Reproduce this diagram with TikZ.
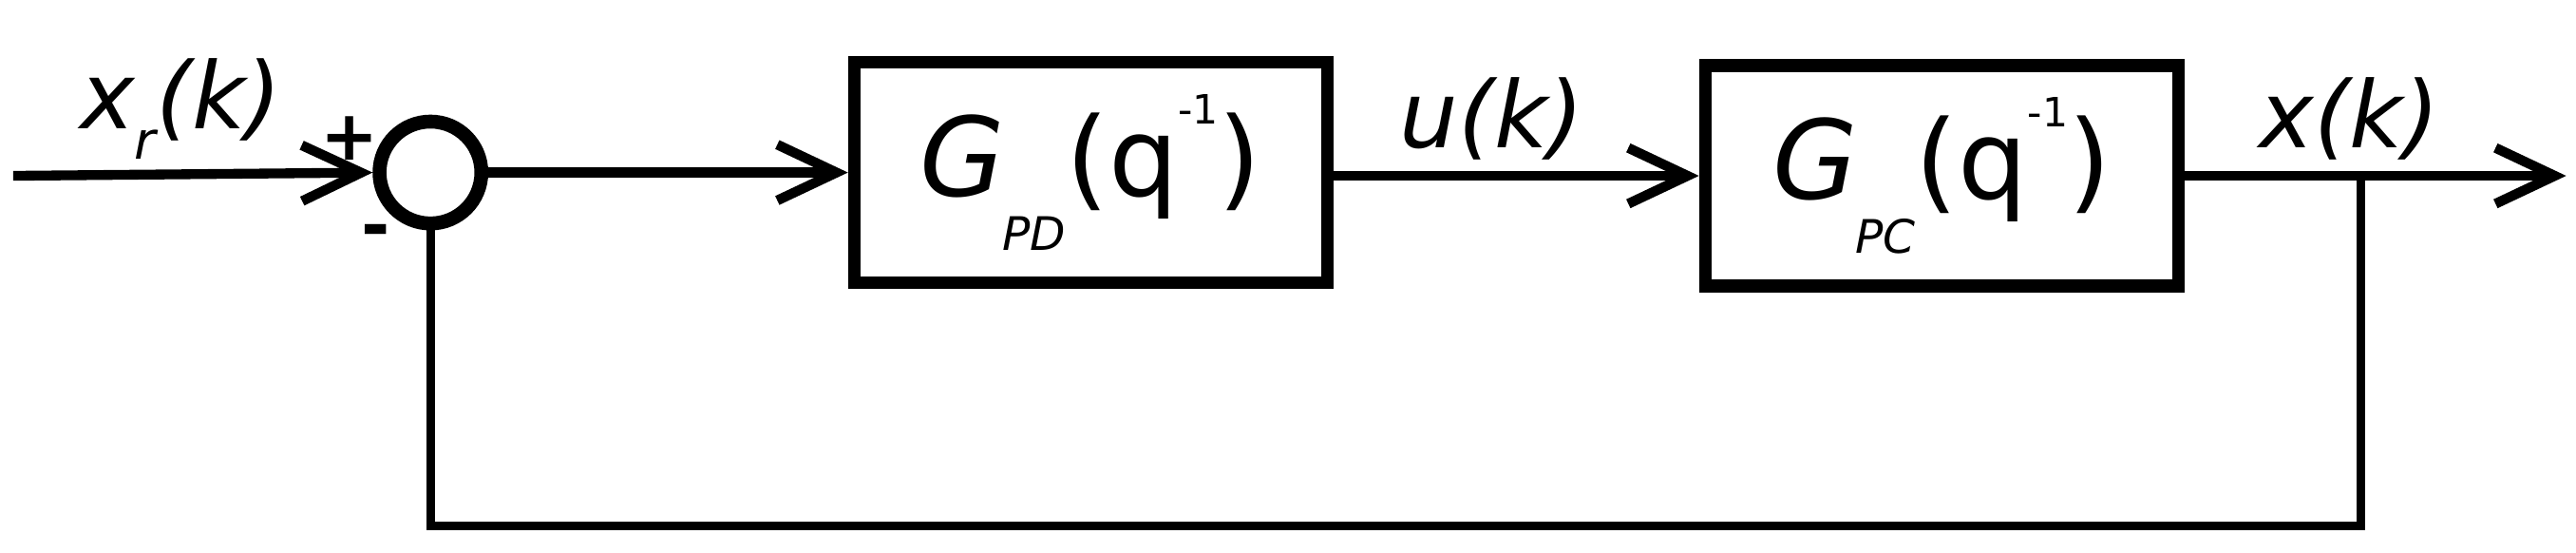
\documentclass[tikz,border=0pt]{standalone}
\usepackage{fontspec}
\setmainfont{DejaVu Sans}
\usetikzlibrary{arrows.meta,positioning}

\begin{document}
\begin{tikzpicture}[line width=1.7pt, font=\fontsize{16}{18}\selectfont,
  block/.style={draw, line width=2.2pt, minimum width=2.88cm, minimum height=1.34cm},
  sig/.style={-{Straight Barb[length=3.6mm,width=3.4mm,line width=1.7pt]}}]

\useasboundingbox (0,0) rectangle (15.68,3.36);

%sum and blocks
\node[draw, circle, line width=2.4pt, minimum size=0.62cm, inner sep=0pt] (sum) at (2.62,2.31) {};
\node[block] (gpd) at (6.64,2.31) {\fontsize{19}{22}\selectfont\itshape G\kern-0.5pt\raisebox{-0.9ex}{\fontsize{8}{10}\selectfont PD}\upshape(q\raisebox{1.2ex}{\fontsize{7}{8}\selectfont -1})};
\node[block] (gpc) at (11.82,2.29) {\fontsize{19}{22}\selectfont\itshape G\kern-0.5pt\raisebox{-0.9ex}{\fontsize{8}{10}\selectfont PC}\upshape(q\raisebox{1.2ex}{\fontsize{7}{8}\selectfont -1})};

\coordinate (in) at (0.08,2.29);
\coordinate (out) at (15.62,2.29);
\coordinate (tap) at (14.37,2.29);
\coordinate (fbR) at (14.37,0.16);
\coordinate (fbL) at (2.62,0.16);

%signals
\draw[sig] (in) -- (sum.west);
\draw[sig] (sum.east) -- (gpd.west);
\draw[sig] (gpd.east |- in) -- (gpc.west |- in);
\draw[sig] (gpc.east |- in) -- (out);

%feedback
\draw[line width=1.5pt] (tap) -- (fbR) -- (fbL) -- (sum.south);

%labels
\node (xr) at (1.10,2.70) {\itshape x\raisebox{-0.6ex}{\fontsize{9}{10}\selectfont r}(k)};
\node (uk) at (9.08,2.64) {\itshape u(k)};
\node (xk) at (14.30,2.64) {\itshape x(k)};
\node (plus) at (2.13,2.52) {\fontsize{12}{14}\selectfont\bfseries +};
\node (minus) at (2.29,1.92) {\fontsize{12}{14}\selectfont\bfseries -};

\end{tikzpicture}
\end{document}
